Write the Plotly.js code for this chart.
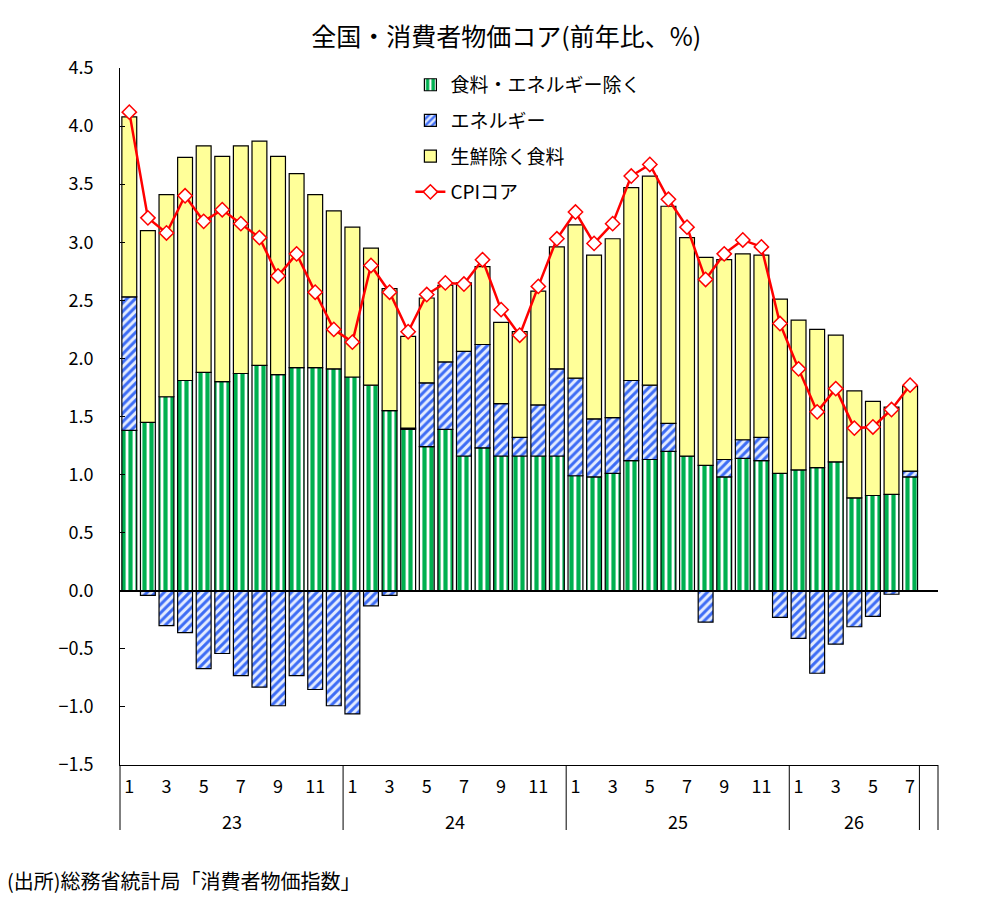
<!DOCTYPE html>
<html>
<head>
<meta charset="utf-8">
<script src="https://cdn.plot.ly/plotly-3.0.1.min.js"></script>
<style>
  html, body { margin: 0; padding: 0; background: #fff; }
  #chart { width: 987px; height: 915px; }
</style>
</head>
<body>
<div id="chart"></div>
<script>
// ── Data (前年比、%) ──
const yearLabels = ['23', '24', '25', '26'];
const monthsPerYear = [12, 12, 12, 7];

// 食料・エネルギー除く
const exFoodEnergy = [
  1.38, 1.45, 1.67, 1.81, 1.88, 1.80, 1.87, 1.94, 1.86, 1.92, 1.92, 1.91,
  1.84, 1.77, 1.55, 1.39, 1.24, 1.39, 1.16, 1.23, 1.16, 1.16, 1.16, 1.16,
  0.99, 0.98, 1.01, 1.12, 1.13, 1.20, 1.16, 1.08, 0.98, 1.14, 1.12, 1.01,
  1.04, 1.06, 1.11, 0.80, 0.82, 0.83, 0.98
];
// エネルギー
const energy = [
  1.15, -0.04, -0.30, -0.36, -0.67, -0.54, -0.73, -0.83, -0.99, -0.73, -0.85, -0.99,
  -1.06, -0.13, -0.04, 0.01, 0.55, 0.58, 0.90, 0.89, 0.45, 0.16, 0.44, 0.75,
  0.84, 0.50, 0.48, 0.69, 0.64, 0.24, 0.00, -0.27, 0.15, 0.16, 0.20, -0.23,
  -0.41, -0.71, -0.46, -0.31, -0.22, -0.03, 0.05
];
// 生鮮除く食料
const food = [
  1.55, 1.65, 1.74, 1.92, 1.95, 1.94, 1.96, 1.93, 1.88, 1.67, 1.49, 1.36,
  1.29, 1.18, 1.05, 0.79, 0.73, 0.66, 0.59, 0.67, 0.70, 0.91, 0.98, 1.05,
  1.32, 1.41, 1.54, 1.66, 1.80, 1.87, 1.88, 1.79, 1.72, 1.60, 1.57, 1.50,
  1.29, 1.19, 1.09, 0.92, 0.81, 0.75, 0.73
];
// CPIコア
const cpiCore = [
  4.12, 3.21, 3.08, 3.40, 3.18, 3.28, 3.16, 3.04, 2.71, 2.90, 2.57, 2.25,
  2.14, 2.80, 2.57, 2.23, 2.55, 2.65, 2.64, 2.85, 2.42, 2.20, 2.62, 3.03,
  3.26, 2.99, 3.16, 3.57, 3.67, 3.37, 3.13, 2.68, 2.90, 3.02, 2.96, 2.30,
  1.91, 1.54, 1.74, 1.40, 1.41, 1.56, 1.77
];

// ── Category layout (one blank slot after the last month) ──
const months = [];
const groups = [];
monthsPerYear.forEach((n, g) => {
    const start = months.length;
    for (let m = 1; m <= n; m++) months.push(m);
    groups.push({ label: yearLabels[g], start: start, end: months.length - 1 });
});
const xIdx = months.map((_, i) => i);
const xRange = [-0.5, months.length + 0.5];
const tickVals = xIdx.filter(i => months[i] % 2 === 1);
const tickText = tickVals.map(i => String(months[i]));

const toPaperX = v => (v - xRange[0]) / (xRange[1] - xRange[0]);
const plotH = 697;
const FONT = '"Noto Sans CJK JP", "Noto Sans", sans-serif';
const outline = { color: '#000000', width: 1.2 };

// group separators under the axis
const boundaries = [xRange[0]].concat(groups.map(g => g.end + 0.5), [xRange[1]]);
const shapes = boundaries.map(b => ({
    type: 'line', xref: 'paper', yref: 'paper',
    x0: toPaperX(b), x1: toPaperX(b), y0: 0, y1: -65 / plotH,
    line: { color: '#000000', width: 1 }
}));

const annotations = groups.map(g => ({
    xref: 'x', yref: 'paper', x: (g.start + g.end) / 2, y: -56 / plotH,
    text: g.label, showarrow: false, yanchor: 'middle',
    font: { family: FONT, size: 18, color: '#000' }
}));
annotations.push({
    xref: 'paper', yref: 'paper', x: -115 / 818, y: -115 / plotH,
    xanchor: 'left', yanchor: 'middle', showarrow: false,
    text: '(出所)総務省統計局「消費者物価指数」',
    font: { family: FONT, size: 20, color: '#000' }
});

Plotly.newPlot('chart', [
    {
        type: 'bar', name: '食料・エネルギー除く', x: xIdx, y: exFoodEnergy,
        legendgroup: 'a',
        marker: {
            color: '#00b050', line: outline,
            pattern: { shape: '|', fgcolor: '#00b050', bgcolor: '#ffffff', size: 7, solidity: 0.6, fillmode: 'replace' }
        }
    },
    {
        type: 'bar', name: 'エネルギー', x: xIdx, y: energy,
        legendgroup: 'b',
        marker: {
            color: '#3d6cf5', line: outline,
            pattern: { shape: '/', fgcolor: '#3d6cf5', bgcolor: '#e4ecff', size: 6, solidity: 0.5, fillmode: 'replace' }
        }
    },
    {
        type: 'bar', name: '生鮮除く食料', x: xIdx, y: food,
        legendgroup: 'c',
        marker: { color: '#ffff99', line: outline }
    },
    {
        type: 'scatter', mode: 'lines+markers', name: 'CPIコア', x: xIdx, y: cpiCore,
        legendgroup: 'd',
        line: { color: '#ff0000', width: 2.5 },
        marker: { symbol: 'diamond', size: 11, color: '#ffffff', line: { color: '#ff0000', width: 1.5 } }
    }
], {
    width: 987, height: 915,
    margin: { l: 120, r: 49, t: 68, b: 150 },
    paper_bgcolor: '#ffffff', plot_bgcolor: '#ffffff',
    font: { family: FONT, size: 18, color: '#000000' },
    title: {
        text: '全国・消費者物価コア(前年比、%)',
        font: { family: FONT, size: 25, color: '#000000' },
        xref: 'container', x: 0.513, xanchor: 'center',
        yref: 'container', y: 1 - 37 / 915, yanchor: 'middle'
    },
    barmode: 'relative', bargap: 0.2,
    showlegend: true,
    legend: {
        x: 0.355, y: 1.003, xanchor: 'left', yanchor: 'top',
        bgcolor: 'rgba(0,0,0,0)', traceorder: 'grouped', tracegroupgap: 8,
        font: { family: FONT, size: 19, color: '#000' }
    },
    xaxis: {
        range: xRange, tickvals: tickVals, ticktext: tickText,
        ticks: '', showgrid: false, zeroline: false,
        showline: true, linecolor: '#000000', linewidth: 1,
        ticklabelstandoff: 5,
        tickfont: { family: FONT, size: 18, color: '#000' }
    },
    yaxis: {
        range: [-1.5, 4.5], tick0: 0, dtick: 0.5, tickformat: '.1f',
        ticks: 'inside', ticklen: 5, tickcolor: '#000000',
        showline: true, linecolor: '#000000', linewidth: 1, showgrid: false,
        zeroline: true, zerolinecolor: '#000000', zerolinewidth: 2, zerolinelayer: 'above traces',
        ticklabelstandoff: 22,
        tickfont: { family: FONT, size: 18, color: '#000' }
    },
    shapes: shapes,
    annotations: annotations
}, { displayModeBar: false, staticPlot: true });
</script>
</body>
</html>
